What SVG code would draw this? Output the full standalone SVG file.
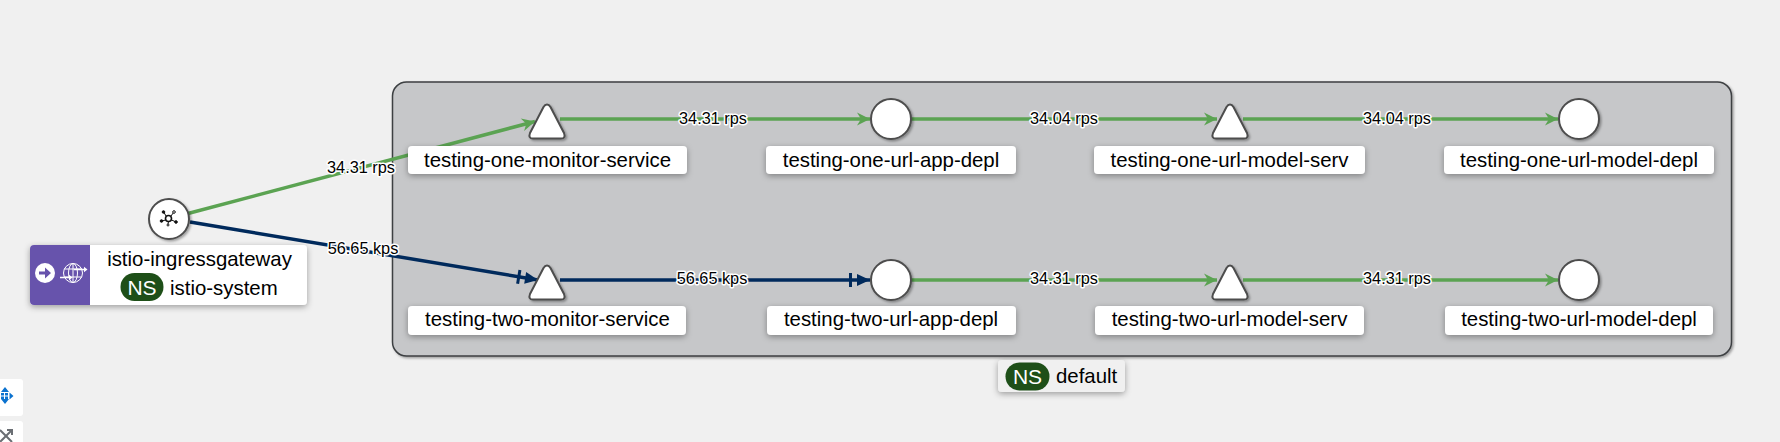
<svg xmlns="http://www.w3.org/2000/svg" width="1780" height="442" viewBox="0 0 1780 442">
<style>
text{font-family:"Liberation Sans",Arial,sans-serif;fill:#000}
.lbl{font-size:20.4px;text-anchor:middle}
.edge{font-size:16.3px;text-anchor:middle;stroke:#fff;stroke-width:3px;paint-order:stroke;stroke-linejoin:round}
.box{fill:#fff;filter:url(#sh)}
.shape{fill:#fff;stroke:#4d4d4d;stroke-width:2;stroke-linejoin:round;filter:url(#s2)}
.g{stroke:#5ba352;stroke-width:3.500;fill:none}
.b{stroke:#002a5c;stroke-width:3.500;fill:none}
.ns{fill:#1e4f18}
.nst{fill:#fff;font-size:21px;text-anchor:middle}
</style>
<defs>
<filter id="sh" x="-10%" y="-30%" width="120%" height="170%"><feDropShadow dx="0" dy="2" stdDeviation="3" flood-color="#000" flood-opacity=".35"/></filter>
<filter id="s2" x="-20%" y="-20%" width="150%" height="150%"><feDropShadow dx="1.5" dy="1.5" stdDeviation=".8" flood-color="#000" flood-opacity=".35"/></filter>
<marker id="ag" markerUnits="userSpaceOnUse" markerWidth="22" markerHeight="18" refX="18" refY="9" orient="auto"><path d="M5 2.500 L18 9 L5 15.500 L9 9Z" fill="#5ba352"/></marker>
<marker id="ab" markerUnits="userSpaceOnUse" markerWidth="44" markerHeight="22" refX="40" refY="11" orient="auto"><path d="M27 5 L40 11 L27 17 Z" fill="#002a5c"/><path d="M19 4 h3 v14 h-3z" fill="#002a5c"/></marker>
</defs>
<rect width="1780" height="442" fill="#f0f0f0"/>
<g id="group-default">
<rect x="392.500" y="82" width="1339" height="274" rx="14" fill="#c6c7c9" stroke="#3c3f42" stroke-width="1.500" filter="url(#s2)"/>
</g>
<g id="connectors">
<path class="g" d="M188 213.500 L535 121.500" marker-end="url(#ag)"/>
<path class="b" d="M190 222 L538 280" marker-end="url(#ab)"/>
<path class="g" d="M560 119 H870" marker-end="url(#ag)"/>
<path class="b" d="M560 280 H870" marker-end="url(#ab)"/>
<path class="g" d="M911 119 H1217" marker-end="url(#ag)"/>
<path class="g" d="M911 280 H1217" marker-end="url(#ag)"/>
<path class="g" d="M1243 119 H1558" marker-end="url(#ag)"/>
<path class="g" d="M1243 280 H1558" marker-end="url(#ag)"/>
</g>
<g id="edge-labels">
<text class="edge" x="361" y="172.500">34.31 rps</text>
<text class="edge" x="363" y="254">56.65 kps</text>
<text class="edge" x="713" y="124">34.31 rps</text>
<text class="edge" x="712" y="284">56.65 kps</text>
<text class="edge" x="1064" y="124">34.04 rps</text>
<text class="edge" x="1064" y="284">34.31 rps</text>
<text class="edge" x="1397" y="124">34.04 rps</text>
<text class="edge" x="1397" y="284">34.31 rps</text>
</g>
<g id="istio-ingressgateway">
<circle class="shape" cx="169" cy="219" r="20"/>
<g fill="#111" stroke="#111">
<circle cx="168.500" cy="218.500" r="3" fill="none" stroke-width="1.600"/>
<path d="M166 216 L164 212.500 M171 216 L173.500 212.500 M165.500 220 L162 221 M171.500 220 L175 221.500 M168.500 221.500 L168 224" stroke-width="1"/>
<circle cx="163.500" cy="212" r="1.300"/><circle cx="174" cy="212" r="1.300" fill="#fff"/><circle cx="161.500" cy="221" r="1.300"/><circle cx="176" cy="222" r="1.300"/><circle cx="168" cy="225" r="1" fill="#fff"/>
</g>
<rect class="box" x="30" y="245" width="277" height="60" rx="4"/>
<path d="M34 245 H90 V305 H34 a4 4 0 0 1 -4 -4 V249 a4 4 0 0 1 4 -4z" fill="#6753ac"/>
<circle cx="45" cy="273" r="10" fill="#fff"/>
<path d="M39 271.500 h6 v-4 l6 5.500 l-6 5.500 v-4 h-6z" fill="#6753ac"/>
<g fill="none" stroke="#fff" stroke-width="1">
<circle cx="73" cy="273" r="9.500"/><ellipse cx="73" cy="273" rx="4.500" ry="9.500"/><path d="M64 269 H82 M64 277 H82 M73 263.500 V282.500"/>
</g>
<path d="M74 268.700 h10 v-2 l3.500 2.800 l-3.500 2.800 v-2 h-10z M60 276.700 h9 v-2 l3.500 2.800 l-3.500 2.800 v-2 h-9z" fill="#fff"/>
<text class="lbl" x="199.500" y="266">istio-ingressgateway</text>
<rect class="ns" x="120.500" y="273" width="43" height="28" rx="14"/>
<text class="nst" x="142" y="294.500">NS</text>
<text x="170" y="295" font-size="20.4">istio-system</text>
</g>
<g id="testing-one-monitor-service">
<path class="shape" d="M547 104.500 Q549 104.500 550.500 107 L564 133 Q566 138.500 561 138.500 H533 Q528 138.500 530 133 L543.500 107 Q545 104.500 547 104.500Z"/>
<rect class="box" x="408" y="146" width="279" height="28" rx="4"/>
<text class="lbl" x="547.500" y="167">testing-one-monitor-service</text>
</g>
<g id="testing-one-url-app-depl">
<circle class="shape" cx="891" cy="119" r="20"/>
<rect class="box" x="766" y="146" width="250" height="28" rx="4"/>
<text class="lbl" x="891" y="167">testing-one-url-app-depl</text>
</g>
<g id="testing-one-url-model-serv">
<path class="shape" d="M1230 104.500 Q1232 104.500 1233.500 107 L1247 133 Q1249 138.500 1244 138.500 H1216 Q1211 138.500 1213 133 L1226.500 107 Q1228 104.500 1230 104.500Z"/>
<rect class="box" x="1094" y="146" width="271" height="28" rx="4"/>
<text class="lbl" x="1229.500" y="167">testing-one-url-model-serv</text>
</g>
<g id="testing-one-url-model-depl">
<circle class="shape" cx="1579" cy="119" r="20"/>
<rect class="box" x="1444" y="146" width="270" height="28" rx="4"/>
<text class="lbl" x="1579" y="167">testing-one-url-model-depl</text>
</g>
<g id="testing-two-monitor-service">
<path class="shape" d="M547 265.500 Q549 265.500 550.500 268 L564 294 Q566 299.500 561 299.500 H533 Q528 299.500 530 294 L543.500 268 Q545 265.500 547 265.500Z"/>
<rect class="box" x="408" y="306" width="278" height="29" rx="4"/>
<text class="lbl" x="547.500" y="326">testing-two-monitor-service</text>
</g>
<g id="testing-two-url-app-depl">
<circle class="shape" cx="891" cy="280" r="20"/>
<rect class="box" x="767" y="306" width="249" height="29" rx="4"/>
<text class="lbl" x="891" y="326">testing-two-url-app-depl</text>
</g>
<g id="testing-two-url-model-serv">
<path class="shape" d="M1230 265.500 Q1232 265.500 1233.500 268 L1247 294 Q1249 299.500 1244 299.500 H1216 Q1211 299.500 1213 294 L1226.500 268 Q1228 265.500 1230 265.500Z"/>
<rect class="box" x="1095" y="306" width="269" height="29" rx="4"/>
<text class="lbl" x="1229.500" y="326">testing-two-url-model-serv</text>
</g>
<g id="testing-two-url-model-depl">
<circle class="shape" cx="1579" cy="280" r="20"/>
<rect class="box" x="1445" y="306" width="268" height="29" rx="4"/>
<text class="lbl" x="1579" y="326">testing-two-url-model-depl</text>
</g>
<g id="namespace-default">
<rect x="998" y="360" width="127" height="32" rx="4" fill="#f0f0f0" filter="url(#sh)"/>
<rect class="ns" x="1005.500" y="362.500" width="44" height="28" rx="14"/>
<text class="nst" x="1027.500" y="384">NS</text>
<text x="1056" y="383" font-size="20.4">default</text>
</g>
<g id="toolbar">
<rect x="-6" y="379" width="29" height="37" rx="3" fill="#fff"/>
<path d="M5 387 l-4 5 h8z M5 404 l-4 -5 h8z M9.500 392.500 l4 3.500 l-4 3.500z" fill="#0b72cf"/>
<g fill="#0b72cf"><rect x="1" y="393" width="3" height="2.500"/><rect x="5" y="393" width="3" height="2.500"/><rect x="1" y="396.500" width="3" height="2.500"/><rect x="5" y="396.500" width="3" height="2.500"/></g>
<rect x="-6" y="421" width="29" height="30" rx="3" fill="#fff"/>
<path d="M0 430 L12 442 M0 442 L12 430 M7 430 H12 V435" stroke="#6a6e73" stroke-width="2" fill="none"/>
</g>
</svg>
